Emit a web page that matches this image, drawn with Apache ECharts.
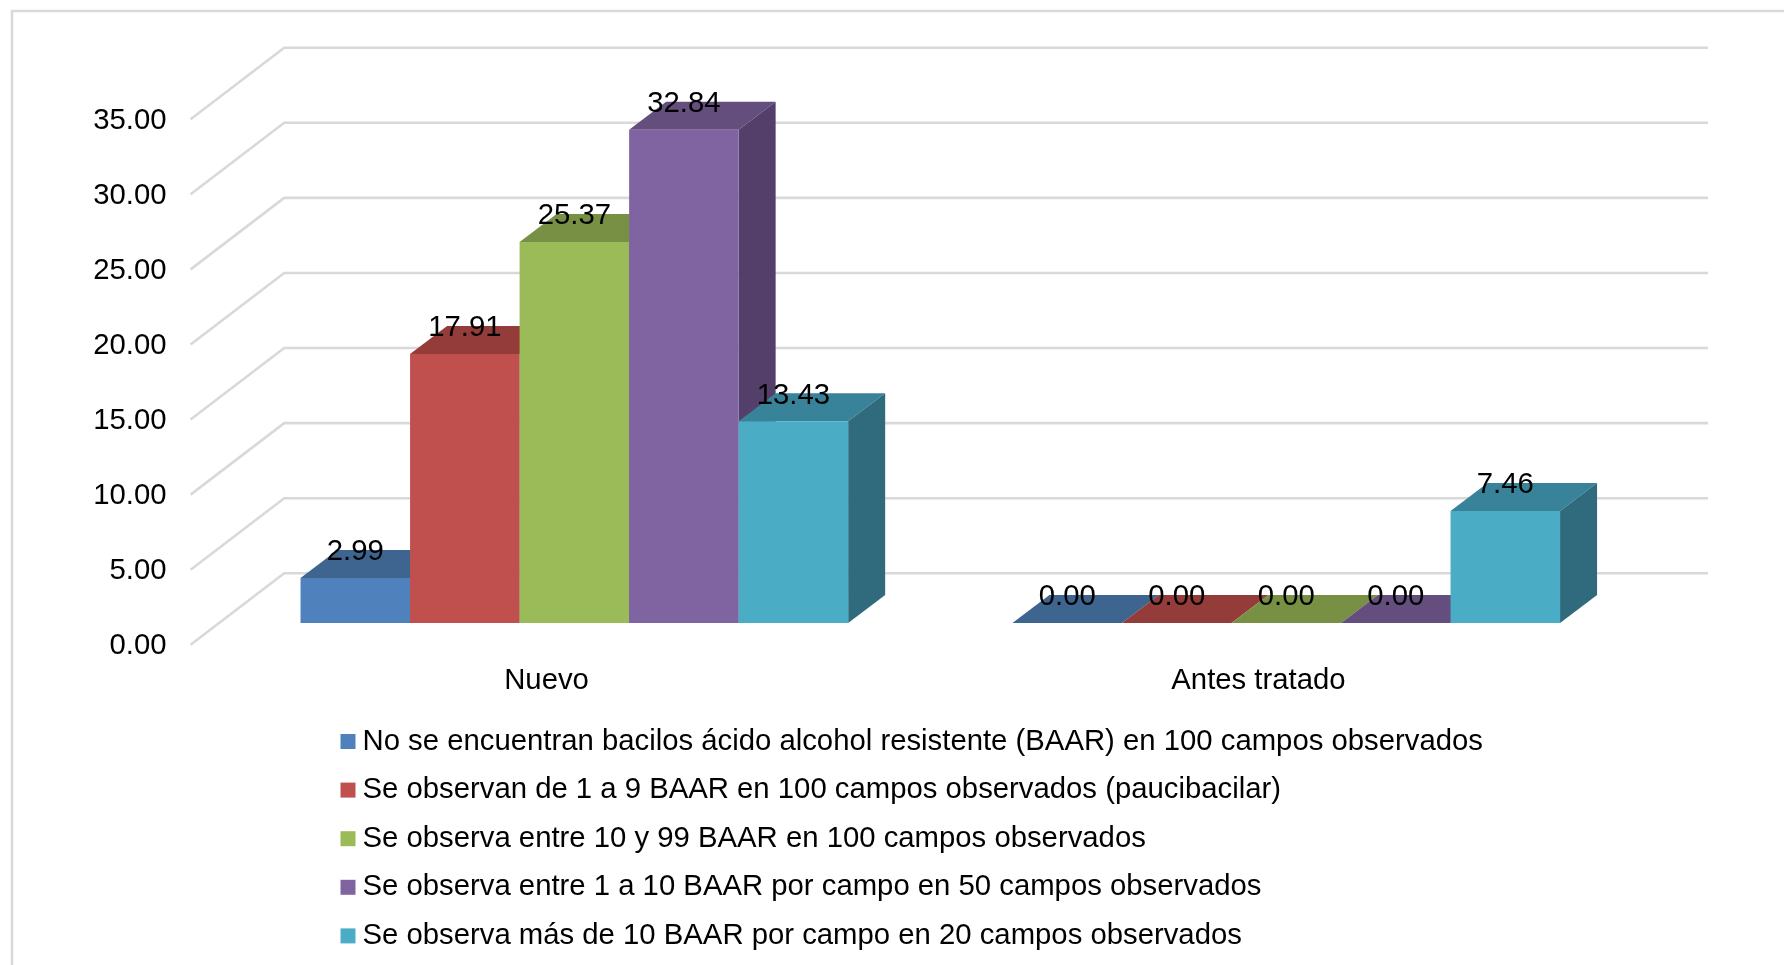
<!DOCTYPE html>
<html>
<head>
<meta charset="utf-8">
<style>
html, body { margin: 0; padding: 0; background: #fff; }
#chart { width: 1784px; height: 965px; }
</style>
<script src="https://cdn.jsdelivr.net/npm/echarts@6/dist/echarts.min.js"></script>
</head>
<body>
<div id="chart"></div>
<script>
const categories = ['Nuevo', 'Antes tratado'];
const seriesNames = [
	'No se encuentran bacilos ácido alcohol resistente (BAAR) en 100 campos observados',
	'Se observan de 1 a 9 BAAR en 100 campos observados (paucibacilar)',
	'Se observa entre 10 y 99 BAAR en 100 campos observados',
	'Se observa entre 1 a 10 BAAR por campo en 50 campos observados',
	'Se observa más de 10 BAAR por campo en 20 campos observados'
];
const noBaar = [2.99, 0];
const paucibacilar = [17.91, 0];
const entre10y99 = [25.37, 0];
const entre1y10 = [32.84, 0];
const masDe10 = [13.43, 7.46];
const seriesValues = [noBaar, paucibacilar, entre10y99, entre1y10, masDe10];
const ticks = [0, 5, 10, 15, 20, 25, 30, 35];

const frontColors = ['#4f81bd', '#c0504d', '#9bbb59', '#8064a2', '#4bacc6'];
const topColors = ['#3e6490', '#933c3a', '#779044', '#644e7e', '#39839a'];
const sideColors = ['#33527a', '#7a3230', '#62763a', '#533f6a', '#2f6b7c'];

const FONT = '"Liberation Sans", Arial, sans-serif';
const FONT_SIZE = 29.3;
// profundidad de la pared completa y de la barra (pseudo 3D)
const WALL_DX = 93.6, WALL_DY = 71.5;
const BAR_DX = 37, BAR_DY = 28;
const BAR_SHIFT_X = 27.8, BAR_SHIFT_Y = 21.8;
const GAP_SHARE = 6.5; // 5 barras + 150% de hueco

function renderWall(params, api) {
	const rect = params.coordSys;
	const y = api.coord([0, api.value(1)])[1];
	return {
		type: 'polyline',
		silent: true,
		shape: {
			points: [
				[rect.x, y],
				[rect.x + WALL_DX, y - WALL_DY],
				[rect.x + rect.width + WALL_DX, y - WALL_DY]
			]
		},
		style: { fill: null, stroke: '#d9d9d9', lineWidth: 2.6 }
	};
}

function renderBar(index) {
	return function (params, api) {
		const catIdx = api.value(0);
		const val = api.value(1);
		const center = api.coord([catIdx, val]);
		const base = api.coord([catIdx, 0]);
		const barW = api.size([1, 0])[0] / GAP_SHARE;
		const x0 = center[0] + BAR_SHIFT_X + (index - 2.5) * barW;
		const x1 = x0 + barW;
		const yTop = center[1] - BAR_SHIFT_Y;
		const yBase = base[1] - BAR_SHIFT_Y;
		return {
			type: 'group',
			children: [
				{
					type: 'polygon',
					shape: { points: [[x0, yTop], [x0 + BAR_DX, yTop - BAR_DY], [x1 + BAR_DX, yTop - BAR_DY], [x1, yTop]] },
					style: { fill: topColors[index] }
				},
				{
					type: 'polygon',
					shape: { points: [[x1, yTop], [x1 + BAR_DX, yTop - BAR_DY], [x1 + BAR_DX, yBase - BAR_DY], [x1, yBase]] },
					style: { fill: sideColors[index] }
				},
				{
					type: 'polygon',
					shape: { points: [[x0, yTop], [x1, yTop], [x1, yBase], [x0, yBase]] },
					style: { fill: frontColors[index] }
				},
				{
					type: 'text',
					z2: 100,
					style: {
						text: val.toFixed(2),
						x: (x0 + x1) / 2,
						y: yTop - BAR_DY + 2.2,
						align: 'center',
						verticalAlign: 'middle',
						fontFamily: FONT,
						fontSize: FONT_SIZE,
						fill: '#000'
					}
				}
			]
		};
	};
}

const chart = echarts.init(document.getElementById('chart'), null, { renderer: 'canvas' });

const barSeries = seriesNames.map((name, i) => ({
	name: name,
	type: 'custom',
	renderItem: renderBar(i),
	clip: false,
	itemStyle: { color: frontColors[i] },
	encode: { x: 0, y: 1 },
	data: seriesValues[i].map((v, c) => [c, v])
}));

chart.setOption({
	animation: false,
	backgroundColor: '#fff',
	graphic: [{
		type: 'polyline',
		silent: true,
		shape: { points: [[12, 965], [12, 11], [1784, 11]] },
		style: { fill: null, stroke: '#d9d9d9', lineWidth: 2.5 }
	}],
	grid: { left: 190.6, top: 119.2, width: 1423.8, height: 525.6 },
	legend: {
		orient: 'vertical',
		left: 340.5,
		top: 727,
		padding: 0,
		itemWidth: 15,
		itemHeight: 15,
		itemGap: 19.6,
		selectedMode: false,
		data: seriesNames.map(n => ({ name: n, icon: 'rect' })),
		textStyle: { fontFamily: FONT, fontSize: FONT_SIZE, lineHeight: 28, color: '#000', padding: [0, 0, 0, 2] }
	},
	xAxis: {
		type: 'category',
		data: categories,
		axisLine: { show: false },
		axisTick: { show: false },
		axisLabel: { margin: 22, color: '#000', fontFamily: FONT, fontSize: FONT_SIZE }
	},
	yAxis: {
		type: 'value',
		min: 0,
		max: 35,
		interval: 5,
		axisLine: { show: false },
		axisTick: { show: false },
		splitLine: { show: false },
		// verticalAlign top + lineHeight pequeño: baja el texto 1-2px respecto a la marca
		axisLabel: { margin: 24, color: '#000', fontFamily: FONT, fontSize: FONT_SIZE, verticalAlign: 'top', lineHeight: 3, formatter: v => v.toFixed(2) }
	},
	series: [{
		name: 'pared',
		type: 'custom',
		renderItem: renderWall,
		silent: true,
		clip: false,
		encode: { x: 0, y: 1 },
		data: ticks.map(t => [0, t])
	}].concat(barSeries)
});
</script>
</body>
</html>
